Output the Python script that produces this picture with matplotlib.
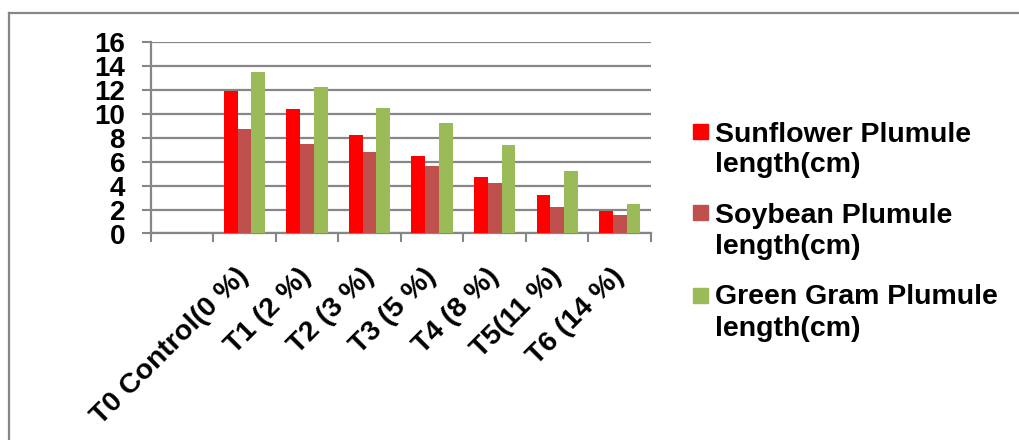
import numpy as np
import matplotlib
matplotlib.use("Agg")
import matplotlib.pyplot as plt
from matplotlib.lines import Line2D
from matplotlib.patches import Rectangle

categories = ["T0 Control(0 %)", "T1 (2 %)", "T2 (3 %)", "T3 (5 %)",
              "T4 (8 %)", "T5(11 %)", "T6 (14 %)"]
series_names = ["Sunflower Plumule\nlength(cm)",
                "Soybean Plumule\nlength(cm)",
                "Green Gram Plumule\nlength(cm)"]
sunflower = [11.9, 10.4, 8.2, 6.5, 4.7, 3.2, 1.85]
soybean = [8.7, 7.5, 6.85, 5.6, 4.25, 2.25, 1.55]
green_gram = [13.5, 12.2, 10.5, 9.27, 7.4, 5.26, 2.45]
colors = ["#FF0000", "#C0504D", "#9BBB59"]
yticks = [0, 2, 4, 6, 8, 10, 12, 14, 16]

plt.rcParams['font.family'] = ['Liberation Sans', 'DejaVu Sans']
plt.rcParams['font.weight'] = 'bold'

W, H = 1020, 440
fig = plt.figure(figsize=(W / 100, H / 100), dpi=100)
ax = fig.add_axes([150.7 / W, 1 - 233.5 / H, (651 - 150.7) / W, (233.5 - 42) / H])

grey = "#868686"
# first slot is empty in the reference
x = np.arange(1, len(categories) + 1)
bw = 0.22
for i, (vals, c) in enumerate(zip([sunflower, soybean, green_gram], colors)):
    ax.bar(x + (i - 1) * bw, vals, width=bw, color=c, zorder=3)

ax.set_xlim(-0.5, len(categories) + 0.5)
ax.set_ylim(0, 16)
ax.set_yticks(yticks)
ax.set_yticklabels([str(v) for v in yticks], fontsize=20, fontweight='bold')
ax.yaxis.grid(True, color=grey, linewidth=1.6, zorder=0)
ax.tick_params(axis='y', length=6.5, width=1.5, color=grey, pad=12)

ax.set_xticks(x)
ax.set_xticklabels(categories, rotation=45, ha='right', va='center',
                   rotation_mode='anchor', fontsize=20.5, fontweight='bold')
ax.tick_params(axis='x', length=0, pad=28)
ax.set_xticks(np.arange(-0.5, len(categories) + 1), minor=True)
ax.tick_params(axis='x', which='minor', length=6.5, width=1.5, color=grey)

for s in ['top', 'right']:
    ax.spines[s].set_visible(False)
for s in ['left', 'bottom']:
    ax.spines[s].set_color(grey)
    ax.spines[s].set_linewidth(1.6)

# chart border (cropped at right/bottom)
fig.add_artist(Line2D([9 / W, 1], [1 - 13 / H, 1 - 13 / H], color=grey, lw=1.6,
                      transform=fig.transFigure))
fig.add_artist(Line2D([9 / W, 9 / W], [0, 1 - 13 / H], color=grey, lw=1.6,
                      transform=fig.transFigure))

# legend
sq_centers = [132, 213, 295]
for name, c, yc in zip(series_names, colors, sq_centers):
    fig.add_artist(Rectangle((693 / W, 1 - (yc + 7.5) / H), 15 / W, 15 / H,
                             color=c, transform=fig.transFigure))
    fig.text(715 / W, 1 - (yc + 18) / H, name, fontsize=20.5, fontweight='bold',
             va='center', ha='left', linespacing=1.25)

fig.savefig("out.png", dpi=100)
